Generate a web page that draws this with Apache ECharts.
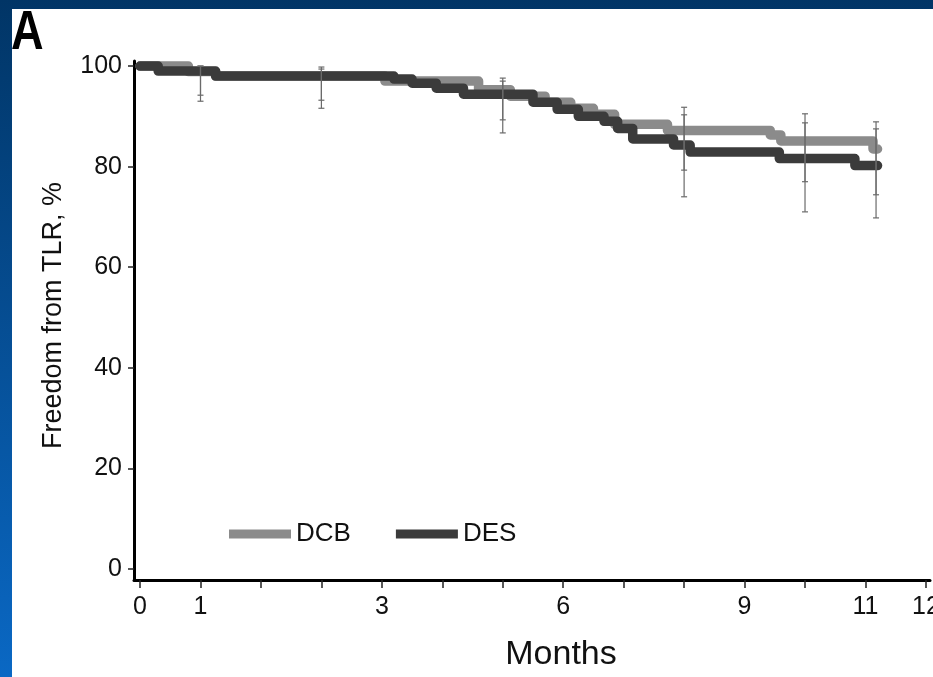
<!DOCTYPE html>
<html>
<head>
<meta charset="utf-8">
<title>Freedom from TLR</title>
<script src="https://cdn.jsdelivr.net/npm/echarts@6/dist/echarts.min.js"></script>
<style>
  html, body { margin: 0; padding: 0; background: #fff; }
  #chart { width: 933px; height: 677px; }
</style>
</head>
<body>
<div id="chart"></div>
<script>
// Time is kept in weeks on the axis; ticks every 4 weeks, labelled in months.
const tickWeeks = [0, 4, 8, 12, 16, 20, 24, 28, 32, 36, 40, 44, 48, 52];
const labelWeeks = [0, 4, 16, 28, 40, 48, 52];
const labelText = ['0', '1', '3', '6', '9', '11', '12'];
const yTicks = [0, 20, 40, 60, 80, 100];

// Kaplan-Meier steps: [week, % free from TLR]
const dcbCurve = [
  [0, 100], [3.2, 98.9], [5.0, 98.0], [16.2, 97.0], [22.4, 95.3], [24.5, 94.0],
  [26.8, 92.8], [28.5, 91.6], [30.0, 90.4], [31.4, 88.4], [34.9, 87.2],
  [41.7, 86.3], [42.4, 85.1], [48.5, 83.5], [48.8, 83.5]
];
const desCurve = [
  [0, 100], [1.2, 99.0], [5.0, 98.0], [16.8, 97.4], [18.0, 96.6], [19.6, 95.6],
  [21.4, 94.4], [26.0, 92.8], [27.6, 91.4], [29.0, 90.0], [30.7, 89.0],
  [31.6, 87.6], [32.6, 85.5], [35.3, 84.3], [36.4, 82.9], [42.3, 81.6],
  [47.3, 80.2], [48.8, 80.2]
];

// Confidence intervals: [week, lower, upper]
const dcbCI = [[4, 94.2, 100], [12, 93.2, 99.4], [24, 89.3, 97.6], [36, 79.3, 91.8], [44, 77.0, 90.5], [48.7, 74.4, 88.9]];
const desCI = [[4, 93.0, 100], [12, 91.6, 99.8], [24, 86.7, 97.0], [36, 74.0, 90.3], [44, 71.0, 88.7], [48.7, 69.8, 87.5]];

const dcbColor = '#8b8b8b';
const desColor = '#3b3b3b';
const FONT = '"Liberation Sans", Arial, Helvetica, sans-serif';

function renderErrorBar(params, api) {
  const t = api.value(0);
  const lo = api.coord([t, api.value(1)]);
  const hi = api.coord([t, api.value(2)]);
  const cap = 3;
  const style = { stroke: '#6a6a6a', lineWidth: 1.2 };
  return {
    type: 'group',
    children: [
      { type: 'line', shape: { x1: lo[0], y1: lo[1], x2: hi[0], y2: hi[1] }, style },
      { type: 'line', shape: { x1: hi[0] - cap, y1: hi[1], x2: hi[0] + cap, y2: hi[1] }, style },
      { type: 'line', shape: { x1: lo[0] - cap, y1: lo[1], x2: lo[0] + cap, y2: lo[1] }, style }
    ]
  };
}

const chart = echarts.init(document.getElementById('chart'), null, { renderer: 'canvas' });

chart.setOption({
  animation: false,
  backgroundColor: '#ffffff',
  graphic: [
    {
      type: 'rect', z: -10, silent: true,
      shape: { x: 0, y: 0, width: 933, height: 677 },
      style: {
        fill: new echarts.graphic.LinearGradient(0, 0, 0, 1, [
          { offset: 0, color: '#013566' },
          { offset: 1, color: '#0a68c4' }
        ])
      }
    },
    {
      type: 'rect', z: -9, silent: true,
      shape: { x: 12, y: 9, width: 921, height: 668 },
      style: { fill: '#ffffff' }
    },
    {
      type: 'text', x: 11, y: 6, z: 10, scaleX: 0.82,
      style: {
        text: 'A',
        font: 'bold 55px "Liberation Sans Narrow", "Liberation Sans", Arial, sans-serif',
        fill: '#000'
      }
    }
  ],
  grid: { left: 134, right: 3, top: 61, bottom: 97, containLabel: false, outerBoundsMode: 'none' },
  legend: {
    left: 224, top: 516,
    itemWidth: 62, itemHeight: 9, itemGap: 45,
    icon: 'rect',
    textStyle: { fontFamily: FONT, fontSize: 26, color: '#111' },
    data: ['DCB', 'DES']
  },
  xAxis: {
    type: 'value',
    min: -0.4, max: 52.27,
    name: 'Months',
    nameLocation: 'middle',
    nameGap: 58,
    nameTextStyle: { fontFamily: FONT, fontSize: 34, color: '#111', padding: [0, 0, 0, 58] },
    axisLine: { onZero: false, lineStyle: { color: '#000', width: 3 } },
    axisTick: { show: true, customValues: tickWeeks, length: 8, lineStyle: { color: '#222', width: 1.5 } },
    axisLabel: {
      customValues: labelWeeks,
      margin: 15,
      fontFamily: FONT, fontSize: 25, color: '#111',
      formatter: v => labelText[labelWeeks.indexOf(v)]
    },
    splitLine: { show: false }
  },
  yAxis: {
    type: 'value',
    min: -2.2, max: 101,
    name: 'Freedom from TLR, %',
    nameLocation: 'middle',
    nameGap: 67,
    nameTextStyle: { fontFamily: FONT, fontSize: 27, color: '#111', padding: [0, 0, 0, 10] },
    axisLine: { show: true, onZero: false, lineStyle: { color: '#000', width: 3 } },
    axisTick: { show: true, customValues: yTicks, length: 6, lineStyle: { color: '#222', width: 1.5 } },
    axisLabel: {
      customValues: yTicks,
      margin: 12,
      fontFamily: FONT, fontSize: 25, color: '#111'
    },
    splitLine: { show: false }
  },
  series: [
    {
      name: 'DCB', type: 'line', step: 'end', data: dcbCurve,
      showSymbol: false, z: 3,
      color: dcbColor,
      lineStyle: { color: dcbColor, width: 9.5, cap: 'round', join: 'round' }
    },
    {
      name: 'DES', type: 'line', step: 'end', data: desCurve,
      showSymbol: false, z: 4,
      color: desColor,
      lineStyle: { color: desColor, width: 9.5, cap: 'round', join: 'round' }
    },
    {
      name: 'DCB CI', type: 'custom', renderItem: renderErrorBar,
      encode: { x: 0, y: [1, 2] }, data: dcbCI, z: 5, silent: true
    },
    {
      name: 'DES CI', type: 'custom', renderItem: renderErrorBar,
      encode: { x: 0, y: [1, 2] }, data: desCI, z: 5, silent: true
    }
  ]
});
</script>
</body>
</html>
